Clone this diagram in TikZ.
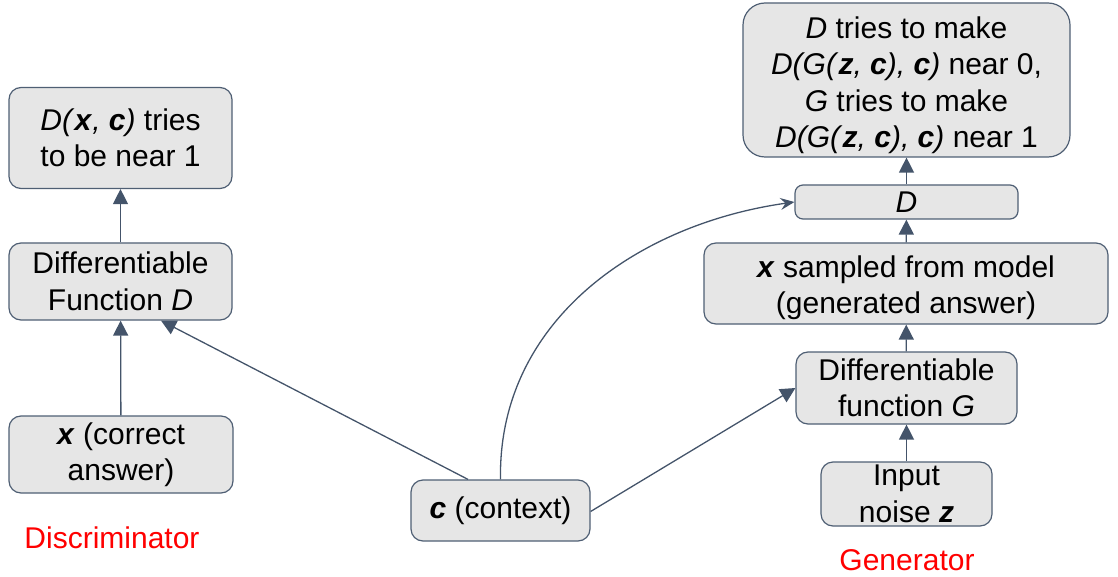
\documentclass[tikz,border=0pt]{standalone}
\usepackage{fontspec}
\setmainfont{Liberation Sans}
\usetikzlibrary{arrows.meta}
\definecolor{boxfill}{HTML}{E6E6E6}
\definecolor{boxline}{HTML}{4F5F74}
\definecolor{arrowcol}{HTML}{44546A}
\definecolor{labelred}{HTML}{FF0000}
\newcommand{\bi}[1]{\textbf{\textit{#1}}}
\tikzset{
  boxtext/.style={align=center, inner sep=0pt, font=\fontsize{30}{36.5}\selectfont},
  box/.style={draw=boxline, fill=boxfill, line width=1.2pt, rounded corners=12pt, boxtext},
  conn/.style={draw=arrowcol, line width=1.3pt, -{Triangle[length=15pt,width=15pt]}},
  curveconn/.style={draw=arrowcol, line width=1.3pt, -{Stealth[length=14pt,width=12pt,inset=5pt]}},
  redlabel/.style={text=labelred, font=\fontsize{30}{36}\selectfont, inner sep=0pt}
}
\begin{document}
\begin{tikzpicture}[x=1pt,y=-1pt]
\useasboundingbox (0,0) rectangle (1118,577);

% discriminator column
\node[box, minimum width=223pt, minimum height=101pt] (dout) at (120.5,138) {\textit{D(}\bi{x}\textit{, }\bi{c}\textit{)} tries\\to be near 1};
\node[box, minimum width=223pt, minimum height=77pt] (dfun) at (120.5,281.5) {Differentiable\\Function \textit{D}};
\node[box, minimum width=224pt, minimum height=77pt] (xreal) at (121,454.5) {\bi{x} (correct\\answer)};
\node[redlabel] (dlabel) at (112,538) {Discriminator};

% context
\node[box, minimum width=179pt, minimum height=61pt] (ctx) at (500.5,510.5) {\bi{c} (context)};

% generator column
\node[box, minimum width=327pt, minimum height=154pt, rounded corners=22pt] (gout) at (906.5,80) {};
\node[boxtext] (gouttext) at (906.5,85)
  {\textit{D} tries to make\\\textit{D(G(}\bi{z}\textit{, }\bi{c}\textit{), }\bi{c}\textit{)} near 0,\\\textit{G} tries to make\\\textit{D(G(}\bi{z}\textit{, }\bi{c}\textit{), }\bi{c}\textit{)} near 1};
\node[box, minimum width=223pt, minimum height=34pt, rounded corners=8pt] (dgen) at (906.5,202) {\textit{D}};
\node[box, minimum width=404pt, minimum height=81pt] (xfake) at (906,283.5) {};
\node[boxtext] (xfaketext) at (906,287.5) {\bi{x} sampled from model\\(generated answer)};
\node[box, minimum width=221pt, minimum height=72pt] (gfun) at (906.5,388) {Differentiable\\function \textit{G}};
\node[box, minimum width=171pt, minimum height=64pt] (noise) at (906.5,494) {Input\\noise \bi{z}};
\node[redlabel] (glabel) at (907,560) {Generator};

% connectors
\draw[conn] (dfun) -- (dout);
\draw[conn] (xreal) -- (dfun);
\draw[conn] (ctx.north -| 468,0) -- (dfun.south east -| 161,0);
\draw[conn] (ctx.east) ++(0,1) -- (gfun.west);
\draw[curveconn] (ctx.north) to[out=91,in=188] (dgen.west);
\draw[conn] (noise) -- (gfun);
\draw[conn] (gfun) -- (xfake);
\draw[conn] (xfake) -- (dgen);
\draw[conn] (dgen) -- (gout);
\end{tikzpicture}
\end{document}
